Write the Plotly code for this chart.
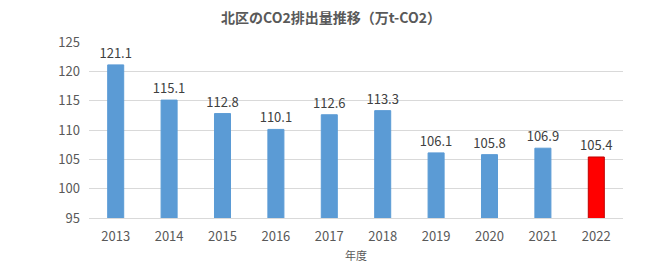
import plotly.graph_objects as go

years = ["2013", "2014", "2015", "2016", "2017", "2018", "2019", "2020", "2021", "2022"]
values = [121.1, 115.1, 112.8, 110.1, 112.6, 113.3, 106.1, 105.8, 106.9, 105.4]
colors = ["#5B9BD5"] * 9 + ["#FF0000"]
line_colors = ["#5B9BD5"] * 9 + ["#C00000"]

fig = go.Figure(go.Bar(
    x=years, y=values,
    marker=dict(color=colors, line=dict(color=line_colors, width=1)),
    text=[f"{v:.1f}" for v in values],
    textposition="outside",
    constraintext="none",
    textfont=dict(size=13, color="#404040", family="Noto Sans CJK JP"),
    cliponaxis=False,
))

fig.update_layout(
    width=662, height=272,
    margin=dict(l=89, r=39, t=42, b=52),
    paper_bgcolor="white", plot_bgcolor="white",
    title=dict(text="<b>北区のCO2排出量推移（万t-CO2）</b>", x=0.5, xanchor="center",
               y=0.935, yanchor="middle",
               font=dict(size=14, color="#595959", family="Noto Sans CJK JP")),
    bargap=0.7,
    showlegend=False,
    font=dict(family="Noto Sans CJK JP", color="#595959"),
)
fig.update_yaxes(range=[95, 125], dtick=5, showgrid=True, gridcolor="#D9D9D9",
                 tickfont=dict(size=13, color="#595959"), zeroline=False,
                 ticks="", ticklabelstandoff=8)
fig.update_xaxes(showline=True, linecolor="#D9D9D9", tickfont=dict(size=13, color="#595959"),
                 ticklabelstandoff=6,
                 title=dict(text="年度", font=dict(size=11, color="#595959"), standoff=8))

fig.write_html("out.html")
